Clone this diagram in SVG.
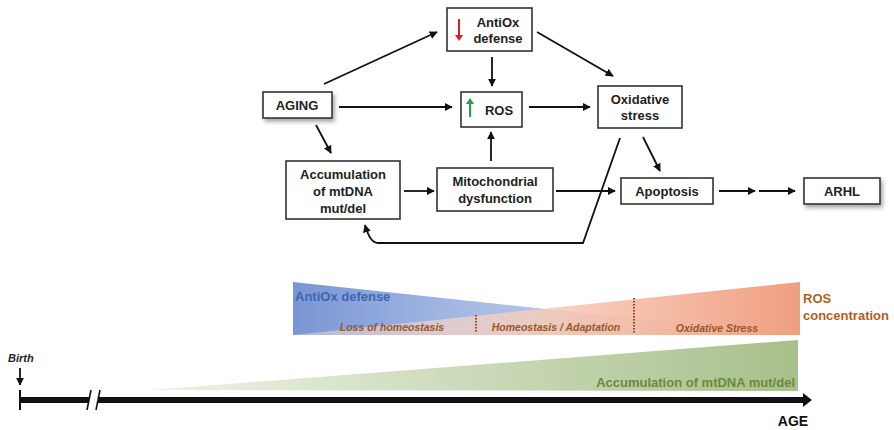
<svg xmlns="http://www.w3.org/2000/svg" width="894" height="430" viewBox="0 0 894 430">
<defs>
<marker id="ah" viewBox="0 0 10 10" refX="9" refY="5" markerWidth="4.5" markerHeight="4.5" orient="auto" markerUnits="strokeWidth"><path d="M0,0 L10,5 L0,10 z" fill="#111"/></marker>
<filter id="sh" x="-20%" y="-30%" width="150%" height="180%"><feGaussianBlur in="SourceAlpha" stdDeviation="2"/><feOffset dx="2" dy="3"/><feComponentTransfer><feFuncA type="linear" slope="0.35"/></feComponentTransfer><feMerge><feMergeNode/><feMergeNode in="SourceGraphic"/></feMerge></filter>
<linearGradient id="gBlue" x1="293" y1="0" x2="790" y2="0" gradientUnits="userSpaceOnUse"><stop offset="0" stop-color="#7896d4"/><stop offset="0.6" stop-color="#aabde6" stop-opacity="0.75"/><stop offset="1" stop-color="#dfe6f5" stop-opacity="0.3"/></linearGradient>
<linearGradient id="gOr" x1="293" y1="0" x2="800" y2="0" gradientUnits="userSpaceOnUse"><stop offset="0" stop-color="#fbe6dc" stop-opacity="0.4"/><stop offset="0.5" stop-color="#f7cab7" stop-opacity="0.85"/><stop offset="1" stop-color="#f09e80"/></linearGradient>
<linearGradient id="gGr" x1="150" y1="0" x2="798" y2="0" gradientUnits="userSpaceOnUse"><stop offset="0" stop-color="#eef3e6"/><stop offset="1" stop-color="#a8c08b"/></linearGradient>
<style>
.box{fill:#fff;stroke:#333;stroke-width:1.6}
.t{font-family:"Liberation Sans",Arial,sans-serif;font-weight:bold;font-size:13px;fill:#222;text-anchor:middle}
.c{fill:none;stroke:#111;stroke-width:1.8;marker-end:url(#ah)}
.it{font-family:"Liberation Sans",Arial,sans-serif;font-weight:bold;font-style:italic;font-size:10.5px;fill:#9a5626;text-anchor:middle}
.lb{font-family:"Liberation Sans",Arial,sans-serif;font-weight:bold;font-size:13px}
.dot{stroke:#8a4a1e;stroke-width:2;stroke-dasharray:1.5,1.5}
</style>
</defs>

<g id="connectors">
<path class="c" d="M324,84 L437,32"/>
<path class="c" d="M537,32 L613,76"/>
<path class="c" d="M492,57 L492,86"/>
<path class="c" d="M339,107 L452,107"/>
<path class="c" d="M529,107 L590,107"/>
<path class="c" d="M316,125 L331,153"/>
<path class="c" d="M491,161 L491,132"/>
<path class="c" d="M404,191 L434,191"/>
<path class="c" d="M556,191 L615,191"/>
<path class="c" d="M643,137 L660,171"/>
<path class="c" d="M719,191 L755,191"/>
<path class="c" d="M759,191 L795,191"/>
<path class="c" d="M620,138 L583,243 L378,243 Q370,243 365,225"/>
</g>

<g id="antiox"><rect class="box" x="447" y="8" width="85" height="43"/>
<path d="M459,19 L459,37" stroke="#e01b24" stroke-width="2"/><path d="M455,35 L459,41 L463,35 z" fill="#e01b24"/>
<text class="t" x="498" y="27">AntiOx</text><text class="t" x="498" y="43">defense</text></g>

<g id="aging"><rect class="box" x="263" y="92" width="69" height="26" filter="url(#sh)"/>
<text class="t" x="297" y="110">AGING</text></g>

<g id="ros"><rect class="box" x="461" y="92" width="61" height="35"/>
<path d="M470,117 L470,103" stroke="#1fa34a" stroke-width="2"/><path d="M466,104 L470,98 L474,104 z" fill="#1fa34a"/>
<text class="t" x="499" y="115">ROS</text></g>

<g id="oxstress"><rect class="box" x="598" y="86" width="84" height="42"/>
<text class="t" x="640" y="104">Oxidative</text><text class="t" x="640" y="120">stress</text></g>

<g id="accum"><rect class="box" x="286" y="161" width="114" height="58"/>
<text class="t" x="343" y="179">Accumulation</text><text class="t" x="343" y="196">of mtDNA</text><text class="t" x="343" y="213">mut/del</text></g>

<g id="mito"><rect class="box" x="437" y="168" width="116" height="43"/>
<text class="t" x="495" y="186">Mitochondrial</text><text class="t" x="495" y="203">dysfunction</text></g>

<g id="apoptosis"><rect class="box" x="621" y="178" width="92" height="26"/>
<text class="t" x="667" y="196">Apoptosis</text></g>

<g id="arhl"><rect class="box" x="804" y="178" width="76" height="26" filter="url(#sh)"/>
<text class="t" x="842" y="196">ARHL</text></g>

<g id="gradients">
<polygon points="293,282 293,335 790,335" fill="url(#gBlue)"/>
<polygon points="293,335 800,282 800,335" fill="url(#gOr)"/>
<text class="lb" x="295" y="301" fill="#3d66b0">AntiOx defense</text>
<text class="it" x="392" y="331">Loss of homeostasis</text>
<text class="it" x="556" y="331">Homeostasis / Adaptation</text>
<text class="it" x="717" y="332">Oxidative Stress</text>
<line class="dot" x1="476" y1="315" x2="476" y2="333"/>
<line class="dot" x1="634" y1="298" x2="634" y2="333"/>
<text class="lb" x="803" y="303" fill="#b0601e">ROS</text>
<text class="lb" x="803" y="320" fill="#b0601e">concentration</text>
<polygon points="150,390 798,340 798,391" fill="url(#gGr)"/>
<text class="lb" x="795" y="387" text-anchor="end" fill="#6b8a3a">Accumulation of mtDNA mut/del</text>
</g>

<g id="timeline">
<text x="8" y="362" font-family="Liberation Sans,Arial,sans-serif" font-weight="bold" font-style="italic" font-size="11" fill="#222">Birth</text>
<path class="c" d="M20,368 L20,385" stroke-width="1.5"/>
<line x1="20" y1="390" x2="20" y2="410" stroke="#111" stroke-width="2"/>
<line x1="20" y1="400" x2="89" y2="400" stroke="#111" stroke-width="6"/>
<line x1="98" y1="400" x2="804" y2="400" stroke="#111" stroke-width="6"/>
<line x1="87" y1="410" x2="91" y2="390" stroke="#111" stroke-width="1.6"/>
<line x1="96" y1="410" x2="100" y2="390" stroke="#111" stroke-width="1.6"/>
<polygon points="803,393 812,400 803,407" fill="#111"/>
<text x="793" y="426" text-anchor="middle" font-family="Liberation Sans,Arial,sans-serif" font-weight="bold" font-size="14" fill="#111">AGE</text>
</g>
</svg>
